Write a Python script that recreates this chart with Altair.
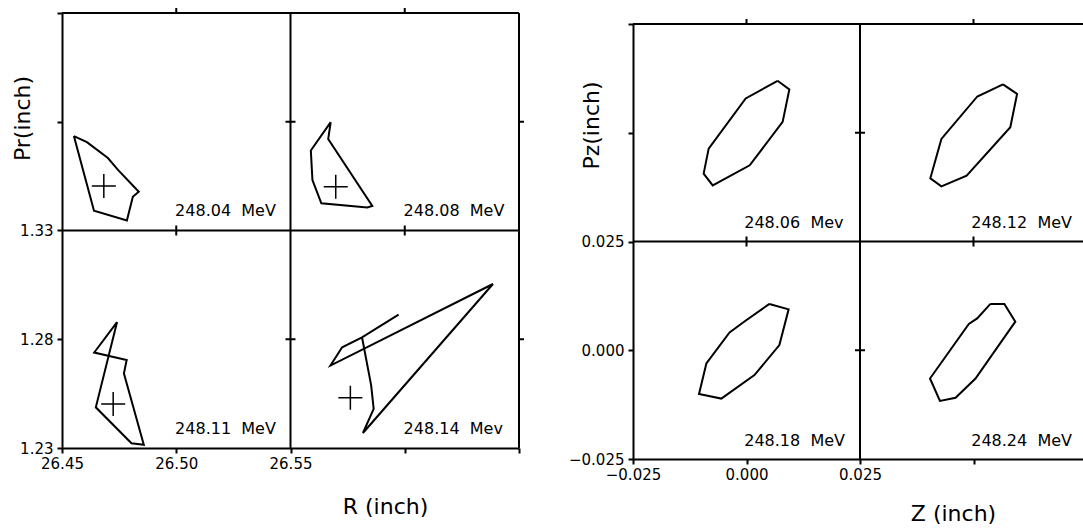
import altair as alt
import pandas as pd

FONT = "DejaVu Sans"
W, H = 1083, 528

# ---------------- R / Pr contours (inch), one list pair per energy ----------------
r_248_04 = [26.4552, 26.4609, 26.4701, 26.4745, 26.4836, 26.4810, 26.4784, 26.4640, 26.4552]
pr_248_04 = [1.3734, 1.3706, 1.3633, 1.3579, 1.3478, 1.3455, 1.3346, 1.3391, 1.3734]

r_248_08 = [26.5676, 26.5589, 26.5596, 26.5635, 26.5836, 26.5858, 26.5665, 26.5676]
pr_248_08 = [1.3798, 1.3668, 1.3532, 1.3425, 1.3406, 1.3413, 1.3721, 1.3798]

r_248_11 = [26.4741, 26.4641, 26.4783, 26.4771, 26.4858, 26.4804, 26.4648, 26.4741]
pr_248_11 = [1.2879, 1.2739, 1.2705, 1.2643, 1.2315, 1.2322, 1.2487, 1.2879]

r_248_14 = [26.5973, 26.5813, 26.5726, 26.5675, 26.6386, 26.5817, 26.5864, 26.5853, 26.5813]
pr_248_14 = [1.2913, 1.2809, 1.2763, 1.2679, 1.3054, 1.2369, 1.2480, 1.2588, 1.2809]

# beam centres in R / Pr
r_centre = [26.4683, 26.5698, 26.4724, 26.5762]
pr_centre = [1.3505, 1.3501, 1.2502, 1.2531]

r_labels = ["248.04\u00a0\u00a0MeV", "248.08\u00a0\u00a0MeV", "248.11\u00a0\u00a0MeV", "248.14\u00a0\u00a0Mev"]

# ---------------- Z / Pz contours (inch) ----------------
z_248_06 = [0.00684, 0.00944, 0.00796, 0.00071, -0.00744, -0.00944, -0.00833, -0.00018, 0.00684]
pz_248_06 = [0.06194, 0.05995, 0.05249, 0.04251, 0.03790, 0.04060, 0.04636, 0.05788, 0.06194]

z_248_12 = [0.05649, 0.05960, 0.05811, 0.04849, 0.04293, 0.04049, 0.04293, 0.05084, 0.05649]
pz_248_12 = [0.06111, 0.05894, 0.05127, 0.04014, 0.03767, 0.03952, 0.04857, 0.05834, 0.06111]

z_248_18 = [0.00504, 0.00928, 0.00724, 0.00175, -0.00555, -0.01046, -0.00884, -0.00373, -0.00007, 0.00504]
pz_248_18 = [0.01065, 0.00940, 0.00120, -0.00571, -0.01111, -0.01005, -0.00304, 0.00410, 0.00690, 0.01065]

z_248_24 = [0.05373, 0.05680, 0.05921, 0.05044, 0.04605, 0.04261, 0.04042, 0.04897, 0.05081, 0.05373]
pz_248_24 = [0.01065, 0.01065, 0.00657, -0.00650, -0.01094, -0.01164, -0.00650, 0.00604, 0.00733, 0.01065]

z_labels = ["248.06\u00a0\u00a0Mev", "248.12\u00a0\u00a0MeV", "248.18\u00a0\u00a0MeV", "248.24\u00a0\u00a0MeV"]


def contours(pairs):
    frames = []
    for i, (xs, ys) in enumerate(pairs):
        frames.append(pd.DataFrame({"x": xs, "y": ys, "cell": i, "k": range(len(xs))}))
    return pd.concat(frames, ignore_index=True)


def panel(pairs, centres, labels, xdom, ydom, xpix, ypix, fmt,
          xtitle, ytitle, xtitle_at, ytitle_at, label_dx, label_dy):
    x0, x1 = xdom
    y0, y1 = ydom
    xm, ym = (x0 + x1) / 2, (y0 + y1) / 2
    xstep, ystep = (x1 - x0) / 4, (y1 - y0) / 4
    xvals = [round(x0 + i * xstep, 4) for i in range(5)]
    yvals = [round(y0 + i * ystep, 4) for i in range(5)]

    xs = alt.Scale(domain=list(xdom), range=list(xpix), nice=False, zero=False)
    ys = alt.Scale(domain=list(ydom), range=list(ypix), nice=False, zero=False)

    common = dict(
        tickSize=5, tickWidth=2, tickColor="black",
        domainColor="black", domainWidth=2, grid=False,
        labelFont=FONT, labelFontSize=15, labelColor="black",
        labelFlush=False, labelOverlap=False, format=fmt,
        titleFont=FONT, titleFontSize=22, titleFontWeight="normal",
        titleColor="black", titleBaseline="middle", titleAlign="center",
    )
    xaxis = alt.Axis(
        orient="bottom", values=xvals, offset=-(H - ypix[0]),
        labelExpr=f"datum.value > {xm + xstep / 2} ? '' : datum.label",
        labelPadding=3, title=xtitle, titleX=xtitle_at[0], titleY=xtitle_at[1],
        **common,
    )
    yaxis = alt.Axis(
        orient="left", values=yvals, offset=-xpix[0],
        labelExpr=f"datum.value > {ym + ystep / 2} ? '' : datum.label",
        labelPadding=4, title=ytitle, titleX=ytitle_at[0], titleY=ytitle_at[1],
        titleAngle=270, **common,
    )

    # every layer carries the same axis definition so the merged axes stay on
    def X(f):
        return alt.X(f, type="quantitative", scale=xs, axis=xaxis)

    def Y(f):
        return alt.Y(f, type="quantitative", scale=ys, axis=yaxis)

    lines = alt.Chart(contours(pairs)).mark_line(color="black", strokeWidth=2).encode(
        x=X("x"), y=Y("y"), detail="cell:N", order="k:Q"
    )

    # top edge, right edge and the two dividing lines of the 2x2 grid
    frame = pd.DataFrame({
        "x": [x0, x1, xm, x0], "x2": [x1, x1, xm, x1],
        "y": [y1, y0, y0, ym], "y2": [y1, y1, y1, ym],
    })
    rules = alt.Chart(frame).mark_rule(color="black", strokeWidth=2).encode(
        x=X("x"), x2="x2", y=Y("y"), y2="y2"
    )

    vt_mid = pd.DataFrame({"x": [xvals[1], xvals[3]], "y": [ym, ym]})
    ht_mid = pd.DataFrame({"x": [xm, xm], "y": [yvals[1], yvals[3]]})
    vt_top = pd.DataFrame({"x": [xvals[1], xvals[3]], "y": [y1, y1]})
    ht_right = pd.DataFrame({"x": [x1, x1], "y": [yvals[1], yvals[3]]})

    ticks = [
        alt.Chart(vt_mid).mark_tick(orient="vertical", size=10, thickness=2, color="black", opacity=1)
        .encode(x=X("x"), y=Y("y")),
        alt.Chart(ht_mid).mark_tick(orient="horizontal", size=10, thickness=2, color="black", opacity=1)
        .encode(x=X("x"), y=Y("y")),
        alt.Chart(vt_top).mark_tick(orient="vertical", size=5, thickness=2, color="black", opacity=1, yOffset=-2.5)
        .encode(x=X("x"), y=Y("y")),
        alt.Chart(ht_right).mark_tick(orient="horizontal", size=5, thickness=2, color="black", opacity=1, xOffset=2.5)
        .encode(x=X("x"), y=Y("y")),
    ]

    cell_x = [x0, xm, x0, xm]
    cell_y = [ym, ym, y0, y0]
    text_df = pd.DataFrame({
        "x": [c + label_dx for c in cell_x],
        "y": [c + label_dy for c in cell_y],
        "t": labels,
    })
    texts = alt.Chart(text_df).mark_text(
        align="left", baseline="alphabetic", font=FONT, fontSize=16, color="black"
    ).encode(x=X("x"), y=Y("y"), text="t:N")

    layers = [lines, rules] + ticks + [texts]
    if centres is not None:
        cdf = pd.DataFrame({"x": centres[0], "y": centres[1]})
        layers.append(
            alt.Chart(cdf).mark_point(
                shape="M-1,0L1,0M0,-1L0,1", size=576, filled=False,
                color="black", strokeWidth=1.5, opacity=1,
            ).encode(x=X("x"), y=Y("y"))
        )
    return alt.layer(*layers)


left = panel(
    [(r_248_04, pr_248_04), (r_248_08, pr_248_08), (r_248_11, pr_248_11), (r_248_14, pr_248_14)],
    (r_centre, pr_centre), r_labels,
    xdom=(26.45, 26.65), ydom=(1.23, 1.43), xpix=(62, 519), ypix=(448, 13), fmt=".2f",
    xtitle="R (inch)", ytitle="Pr(inch)", xtitle_at=(385, 58), ytitle_at=(-40, 118),
    label_dx=0.0495, label_dy=0.0065,
)

right = panel(
    [(z_248_06, pz_248_06), (z_248_12, pz_248_12), (z_248_18, pz_248_18), (z_248_24, pz_248_24)],
    None, z_labels,
    xdom=(-0.025, 0.075), ydom=(-0.025, 0.075), xpix=(633, 1087), ypix=(459, 24), fmt=".3f",
    xtitle="Z (inch)", ytitle="Pz(inch)", xtitle_at=(953, 54), ytitle_at=(-42, 125),
    label_dx=0.0245, label_dy=0.003,
)

chart = (
    alt.layer(left, right)
    .resolve_scale(x="independent", y="independent")
    .properties(width=W, height=H, padding=0, autosize=alt.AutoSizeParams(type="none"),
                background="white")
    .configure_view(stroke=None)
)

chart.save("out.html", embed_options={"renderer": "svg", "actions": False})
